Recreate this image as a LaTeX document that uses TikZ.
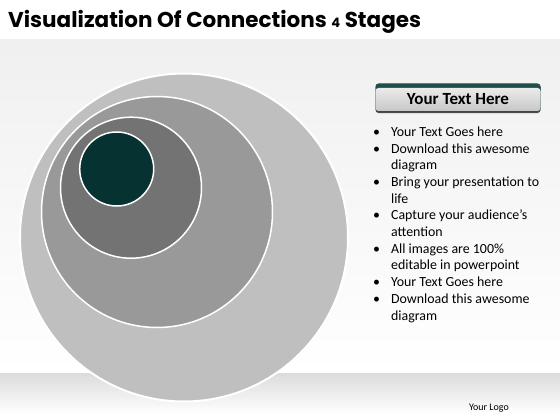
\documentclass[tikz,border=0pt]{standalone}
\usepackage{fontspec}
\setmainfont{Carlito}
\newfontfamily\titlefont{Poppins}
\usetikzlibrary{positioning}
\definecolor{ringA}{HTML}{BFBFBF}
\definecolor{ringB}{HTML}{999999}
\definecolor{ringC}{HTML}{737373}
\definecolor{coreteal}{HTML}{063232}
\definecolor{headteal}{HTML}{1F4E4B}
\tikzstyle{disc} = [circle, draw=white, line width=1.5pt, inner sep=0pt]
\tikzstyle{bar} = [rectangle, rounded corners=3pt, minimum width=165pt, inner sep=0pt]

\begin{document}
\begin{tikzpicture}[x=1pt,y=-1pt]
\useasboundingbox (0,0) rectangle (560,420);

% Background
\fill[white] (0,0) rectangle (560,420);
\fill[top color=black!6, bottom color=white] (0,40) rectangle (560,373);
\fill[top color=black!14, bottom color=white] (0,373) rectangle (560,414);

% Title
\node[anchor=base west, inner sep=0pt, font=\titlefont\bfseries\fontsize{21.5}{21.5}\selectfont] (title) at (8,28)
  {Visualization Of Connections {\fontsize{13}{13}\selectfont 4} Stages};

% Nested circles
\node[disc, fill=ringA, line width=2pt, minimum size=328pt] (outer) at (184,237.5) {};
\node[disc, fill=ringB, minimum size=231pt] (ring2) at (157,212) {};
\node[disc, fill=ringC, minimum size=141pt] (ring3) at (131,187.7) {};
\node[disc, fill=coreteal, minimum size=74pt] (core) at (116.7,169) {};

% Header bar
\node[bar, fill=black!70, minimum height=29pt] (shade) at (458,98.5) {};
\node[bar, fill=headteal, minimum height=28pt] (strip) at (458,97.5) {};
\node[bar, top color=black!8, bottom color=black!22, minimum height=23pt] (head) at (458,99.5)
  {\bfseries\fontsize{17}{17}\selectfont Your Text Here};

% Bullet list
\node[anchor=north west, inner sep=0pt, font=\fontsize{13.9}{16.7}\selectfont] (list) at (373,124.5)
  {\begin{tabular}{@{}l@{\hspace{11pt}}l@{}}
   \textbullet & Your Text Goes here\\
   \textbullet & Download this awesome\\
               & diagram\\
   \textbullet & Bring your presentation to\\
               & life\\
   \textbullet & Capture your audience’s\\
               & attention\\
   \textbullet & All images are 100\%\\
               & editable in powerpoint\\
   \textbullet & Your Text Goes here\\
   \textbullet & Download this awesome\\
               & diagram
   \end{tabular}};

% Logo
\node[anchor=east, inner sep=0pt, font=\fontsize{10}{10}\selectfont] (logo) at (509,408) {Your Logo};

\end{tikzpicture}
\end{document}
